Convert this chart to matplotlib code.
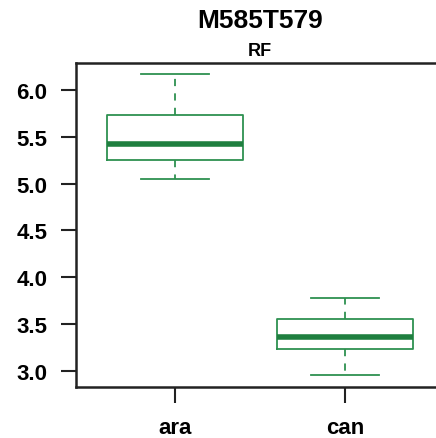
import matplotlib
matplotlib.use("Agg")
import matplotlib.pyplot as plt

categories = ["ara", "can"]
whisker_low = [5.047, 2.961]
q1 = [5.251, 3.236]
median = [5.422, 3.361]
q3 = [5.732, 3.553]
whisker_high = [6.168, 3.778]
yticks = [3.0, 3.5, 4.0, 4.5, 5.0, 5.5, 6.0]

plt.rcParams['font.family'] = ['Liberation Sans', 'DejaVu Sans']

fig = plt.figure(figsize=(4.36, 4.39), dpi=100)
ax = fig.add_axes([76/436, 1-388/439, (443.6-76)/436, (388-64)/439])

stats = []
for i, c in enumerate(categories):
    stats.append(dict(label=c, whislo=whisker_low[i], q1=q1[i], med=median[i],
                      q3=q3[i], whishi=whisker_high[i], fliers=[]))

green = '#2e9150'
ax.bxp(stats, positions=[1, 2], widths=0.8, showfliers=False,
       boxprops=dict(color=green, linewidth=1.3),
       medianprops=dict(color='#1f7f3f', linewidth=4, solid_capstyle='butt'),
       whiskerprops=dict(color=green, linewidth=1.3, linestyle=(0, (4, 4))),
       capprops=dict(color=green, linewidth=1.3),
       capwidths=0.4)

ax.set_xlim(0.42, 2.58)
ax.set_ylim(2.829, 6.288)
ax.set_yticks(yticks)
ax.set_yticklabels([f"{v:.1f}" for v in yticks], fontsize=16, fontweight='bold')
ax.set_xticks([1, 2])
ax.set_xticklabels(categories, fontsize=16, fontweight='bold')
ax.tick_params(axis='y', length=10.5, width=1.5, pad=10, color='#222222')
ax.tick_params(axis='x', length=11.5, width=1.5, pad=10, color='#222222')
for s in ax.spines.values():
    s.set_linewidth(1.8)
    s.set_color('#222222')

cx = 0.5 * (76 + 443.6) / 436
fig.text(cx, 1 - 21/439, "M585T579", ha='center', va='center',
         fontsize=19, fontweight='bold')
fig.text(cx, 1 - 51/439, "RF", ha='center', va='center',
         fontsize=13, fontweight='bold')

fig.savefig("out.png", dpi=100)
